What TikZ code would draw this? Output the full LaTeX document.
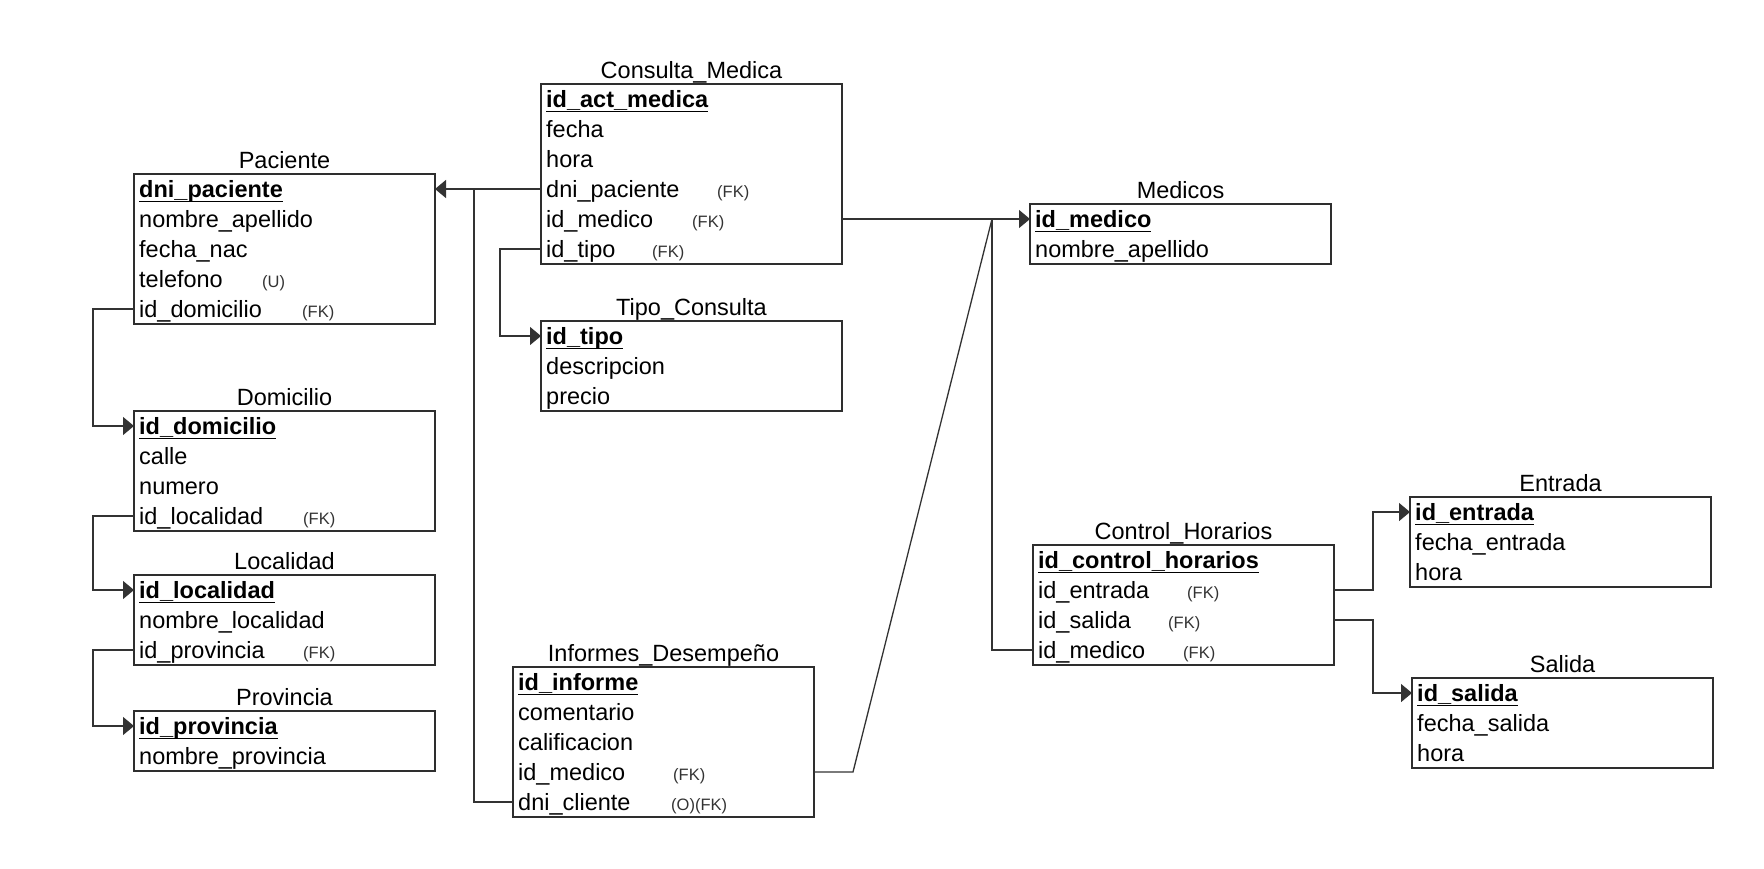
\documentclass[tikz,border=0pt]{standalone}
\usepackage{fontspec}
\setmainfont{Liberation Sans}
\usetikzlibrary{arrows.meta}
\newcommand\pkey[1]{\setbox0\hbox{\bfseries #1}\rlap{\rule[-0.21em]{\wd0}{1.4pt}}\box0}
\newcommand\tabla[5]{%
  \node[tbl, minimum height={#4*30pt}] (#1) at (#2,#3) {};
  \node[ttl] (#1-t) at ([yshift=6pt]#1.north) {#5};
  \foreach \i in {1,...,#4}{\coordinate (#1-c\i) at ([yshift={-(30*\i-15)*1pt}]#1.north west);}
}
\newcommand\rw[3]{\node[rowst] (#1-r#2) at ([xshift=5pt,yshift={-(30*#2-6.5)*1pt}]#1.north west) {#3};}
\newcommand\fk[4]{\node[fkst] (#1-f#2) at ([xshift=#3pt,yshift={-(30*#2-6.5)*1pt}]#1.north west) {#4};}
\begin{document}
\begin{tikzpicture}[x=1pt,y=-1pt,
  tbl/.style={draw=black!82, line width=1.7pt, anchor=north west, inner sep=0pt, outer sep=0pt, minimum width=301pt},
  ttl/.style={font=\fontsize{23.5}{25}\selectfont, anchor=base, inner sep=0pt},
  rowst/.style={font=\fontsize{23.5}{25}\selectfont, anchor=base west, inner sep=0pt},
  fkst/.style={font=\fontsize{16.5}{17}\selectfont, text=black!80, anchor=base west, inner sep=0pt},
  conn/.style={line width=1.3pt, draw=black!80},
  arr/.style={conn, -{Triangle[length=11pt,width=18pt]}}]
\fill[white] (0,0) rectangle (1764,868);
\useasboundingbox (0,0) rectangle (1764,868);

% Paciente
\tabla{pac}{134}{174}{5}{Paciente}
\rw{pac}{1}{\pkey{dni\_paciente}}
\rw{pac}{2}{nombre\_apellido}
\rw{pac}{3}{fecha\_nac}
\rw{pac}{4}{telefono}
\rw{pac}{5}{id\_domicilio}
\fk{pac}{4}{128}{(U)}
\fk{pac}{5}{168}{(FK)}

% Domicilio
\tabla{dom}{134}{411}{4}{Domicilio}
\rw{dom}{1}{\pkey{id\_domicilio}}
\rw{dom}{2}{calle}
\rw{dom}{3}{numero}
\rw{dom}{4}{id\_localidad}
\fk{dom}{4}{169}{(FK)}

% Localidad
\tabla{loc}{134}{575}{3}{Localidad}
\rw{loc}{1}{\pkey{id\_localidad}}
\rw{loc}{2}{nombre\_localidad}
\rw{loc}{3}{id\_provincia}
\fk{loc}{3}{169}{(FK)}

% Provincia
\tabla{prov}{134}{711}{2}{Provincia}
\rw{prov}{1}{\pkey{id\_provincia}}
\rw{prov}{2}{nombre\_provincia}

% Consulta_Medica
\tabla{cons}{541}{84}{6}{Consulta\_Medica}
\rw{cons}{1}{\pkey{id\_act\_medica}}
\rw{cons}{2}{fecha}
\rw{cons}{3}{hora}
\rw{cons}{4}{dni\_paciente}
\rw{cons}{5}{id\_medico}
\rw{cons}{6}{id\_tipo}
\fk{cons}{4}{176}{(FK)}
\fk{cons}{5}{151}{(FK)}
\fk{cons}{6}{111}{(FK)}

% Tipo_Consulta
\tabla{tipo}{541}{321}{3}{Tipo\_Consulta}
\rw{tipo}{1}{\pkey{id\_tipo}}
\rw{tipo}{2}{descripcion}
\rw{tipo}{3}{precio}

% Informes_Desempeño
\tabla{inf}{513}{667}{5}{Informes\_Desempeño}
\rw{inf}{1}{\pkey{id\_informe}}
\rw{inf}{2}{comentario}
\rw{inf}{3}{calificacion}
\rw{inf}{4}{id\_medico}
\rw{inf}{5}{dni\_cliente}
\fk{inf}{4}{160}{(FK)}
\fk{inf}{5}{158}{(O)(FK)}

% Medicos
\tabla{med}{1030}{204}{2}{Medicos}
\rw{med}{1}{\pkey{id\_medico}}
\rw{med}{2}{nombre\_apellido}

% Control_Horarios
\tabla{ctrl}{1033}{545}{4}{Control\_Horarios}
\rw{ctrl}{1}{\pkey{id\_control\_horarios}}
\rw{ctrl}{2}{id\_entrada}
\rw{ctrl}{3}{id\_salida}
\rw{ctrl}{4}{id\_medico}
\fk{ctrl}{2}{154}{(FK)}
\fk{ctrl}{3}{135}{(FK)}
\fk{ctrl}{4}{150}{(FK)}

% Entrada
\tabla{ent}{1410}{497}{3}{Entrada}
\rw{ent}{1}{\pkey{id\_entrada}}
\rw{ent}{2}{fecha\_entrada}
\rw{ent}{3}{hora}

% Salida
\tabla{sal}{1412}{678}{3}{Salida}
\rw{sal}{1}{\pkey{id\_salida}}
\rw{sal}{2}{fecha\_salida}
\rw{sal}{3}{hora}

% junctions
\coordinate (j1) at (474,189);
\coordinate (j2) at (992,219);
\coordinate (k1) at (853,772);

% connectors
\draw[arr] (cons-c4) -- (pac.east |- pac-c1);
\draw[conn] (j1) |- (inf-c5);
\draw[arr] (cons-c6) -- ++(-41,0) |- (tipo-c1);
\draw[arr] (cons.east |- cons-c5) -- (med-c1);
\draw[conn] (j2) |- (ctrl-c4);
\draw[conn] (inf.east |- inf-c4) -- (k1) -- (j2);
\draw[arr] (pac-c5) -- ++(-41,0) |- (dom-c1);
\draw[arr] (dom-c4) -- ++(-41,0) |- (loc-c1);
\draw[arr] (loc-c3) -- ++(-41,0) |- (prov-c1);
\draw[arr] (ctrl.east |- ctrl-c2) -- ++(39,0) |- (ent-c1);
\draw[arr] (ctrl.east |- ctrl-c3) -- ++(39,0) |- (sal-c1);
\end{tikzpicture}
\end{document}
